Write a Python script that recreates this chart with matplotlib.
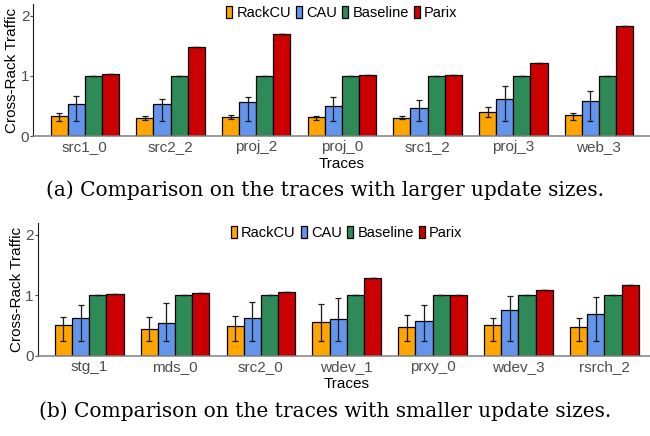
import matplotlib
matplotlib.use("Agg")
import matplotlib.pyplot as plt
import numpy as np

# Schema-namen en kleuren
schemes = ["RackCU", "CAU", "Baseline", "Parix"]
colors = ["#FFA500", "#6495ED", "#2E8B57", "#CC0000"]

# (a) traces met grotere updates
traces_a = ["src1_0", "src2_2", "proj_2", "proj_0", "src1_2", "proj_3", "web_3"]
rackcu_a = [0.33, 0.30, 0.32, 0.31, 0.30, 0.40, 0.345]
rackcu_a_lo = [0.25, 0.26, 0.28, 0.27, 0.28, 0.32, 0.26]
rackcu_a_hi = [0.38, 0.33, 0.35, 0.34, 0.34, 0.49, 0.38]
cau_a = [0.53, 0.54, 0.56, 0.50, 0.46, 0.61, 0.58]
cau_a_lo = [0.25, 0.25, 0.25, 0.25, 0.25, 0.25, 0.25]
cau_a_hi = [0.66, 0.62, 0.65, 0.65, 0.60, 0.84, 0.75]
base_a = [1.0, 1.0, 1.0, 1.0, 1.0, 1.0, 1.0]
parix_a = [1.03, 1.48, 1.70, 1.01, 1.02, 1.22, 1.84]

# (b) traces met kleinere updates
traces_b = ["stg_1", "mds_0", "src2_0", "wdev_1", "prxy_0", "wdev_3", "rsrch_2"]
rackcu_b = [0.51, 0.44, 0.49, 0.56, 0.47, 0.51, 0.48]
rackcu_b_lo = [0.25, 0.25, 0.25, 0.25, 0.25, 0.25, 0.25]
rackcu_b_hi = [0.64, 0.64, 0.66, 0.86, 0.68, 0.62, 0.62]
cau_b = [0.63, 0.54, 0.62, 0.61, 0.57, 0.76, 0.69]
cau_b_lo = [0.25, 0.25, 0.25, 0.25, 0.25, 0.25, 0.25]
cau_b_hi = [0.84, 0.88, 0.89, 0.96, 0.84, 0.99, 0.97]
base_b = [1.0, 1.0, 1.0, 1.0, 1.0, 1.0, 1.0]
parix_b = [1.02, 1.04, 1.05, 1.29, 1.01, 1.09, 1.17]

caption_a = "(a) Comparison on the traces with larger update sizes."
caption_b = "(b) Comparison on the traces with smaller update sizes."

plt.rcParams["font.family"] = ["Liberation Sans", "DejaVu Sans"]
FS = 11


def draw_panel(ax, traces, series, lows, highs, leg_anchor):
    x = np.arange(len(traces))
    width = 0.2
    for i, (name, vals) in enumerate(zip(schemes, series)):
        vals = np.asarray(vals)
        pos = x + (i - 1.5) * width
        ax.bar(pos, vals, width=width, color=colors[i], edgecolor="black",
               linewidth=0.9, label=name, zorder=2)
        lo = np.asarray(lows[i]) if lows[i] is not None else vals
        hi = np.asarray(highs[i]) if highs[i] is not None else vals
        ax.errorbar(pos, vals, yerr=[vals - lo, hi - vals], fmt="none",
                    ecolor="#1a1a1a", elinewidth=0.9, capsize=2,
                    capthick=0.9, zorder=3)

    ax.set_xlim(-0.6, len(traces) - 0.4)
    ax.set_ylim(0, 2.2)
    ax.set_yticks([0, 1, 2])
    ax.set_xticks(x)
    ax.set_xticklabels(traces)
    ax.tick_params(axis="both", colors="#4d4d4d", labelsize=FS, length=2,
                   pad=1)
    ax.tick_params(axis="x", length=0, pad=3)
    for side in ("top", "right"):
        ax.spines[side].set_visible(False)
    ax.spines["left"].set_color("#1a1a1a")
    ax.spines["bottom"].set_color("#7f7f7f")
    ax.spines["bottom"].set_linewidth(1.1)
    ax.set_ylabel("Cross-Rack Traffic", fontsize=FS, labelpad=1)
    ax.set_xlabel("Traces", fontsize=FS, labelpad=2)

    ax.legend(loc="center", bbox_to_anchor=leg_anchor, ncol=4, frameon=False,
              fontsize=10.5, handlelength=0.4, handleheight=0.85,
              handletextpad=0.3, columnspacing=0.35, borderaxespad=0)


fig = plt.figure(figsize=(6.5, 4.36), dpi=100)

ax_a = fig.add_axes([0.0515, 0.688, 0.949, 0.303])
draw_panel(ax_a, traces_a,
           [rackcu_a, cau_a, base_a, parix_a],
           [rackcu_a_lo, cau_a_lo, None, None],
           [rackcu_a_hi, cau_a_hi, None, None],
           (0.5, 0.93))

ax_b = fig.add_axes([0.058, 0.184, 0.951, 0.305])
draw_panel(ax_b, traces_b,
           [rackcu_b, cau_b, base_b, parix_b],
           [rackcu_b_lo, cau_b_lo, None, None],
           [rackcu_b_hi, cau_b_hi, None, None],
           (0.5, 0.925))

cap_font = ["DejaVu Serif"]
fig.text(0.5, 1 - 190 / 436, caption_a, ha="center", va="center",
         fontsize=14.5, family=cap_font)
fig.text(0.5, 1 - 411 / 436, caption_b, ha="center", va="center",
         fontsize=14.5, family=cap_font)

fig.savefig("out.png", dpi=100)
